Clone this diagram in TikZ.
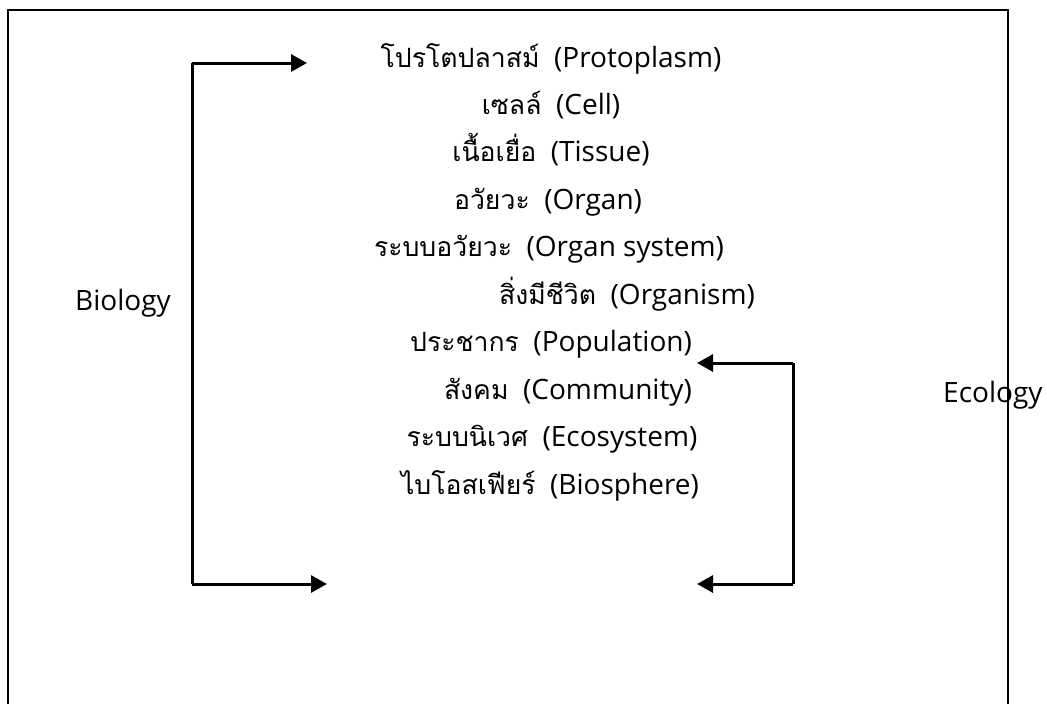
\documentclass[tikz,border=0pt]{standalone}
\usepackage{fontspec}
\setmainfont{Open Sans}
\newfontfamily\thaifont[Script=Thai,Scale=0.95]{Loma}
\newcommand{\thtxt}[1]{{\thaifont #1}}
\usetikzlibrary{arrows.meta}
\begin{document}
\begin{tikzpicture}[x=1pt,y=-1pt,
  lvl/.style={font=\fontsize{28}{32}\selectfont, inner sep=0pt, anchor=base},
  side/.style={font=\fontsize{28}{32}\selectfont, inner sep=0pt, anchor=base},
  brk/.style={line width=3pt},
  arr/.style={line width=3pt, -{Triangle[length=16pt,width=17pt]}}]
\useasboundingbox (0,0) rectangle (1047,704);
\draw[line width=2.2pt] (8,720) -- (8,10) -- (1008,10) -- (1008,720);
\node[lvl] (n1) at (551,67) {\thtxt{โปรโตปลาสม์}\ \ (Protoplasm)};
\node[lvl] (n2) at (551,114.4) {\thtxt{เซลล์}\ \ (Cell)};
\node[lvl] (n3) at (551,161.9) {\thtxt{เนื้อเยื่อ}\ \ (Tissue)};
\node[lvl] (n4) at (548,209.3) {\thtxt{อวัยวะ}\ \ (Organ)};
\node[lvl] (n5) at (549,256.8) {\thtxt{ระบบอวัยวะ}\ \ (Organ system)};
\node[lvl, anchor=base east] (n6) at (755,304.2) {\thtxt{สิ่งมีชีวิต}\ \ (Organism)};
\node[lvl] (n7) at (551,351.7) {\thtxt{ประชากร}\ \ (Population)};
\node[lvl, anchor=base east] (n8) at (692,399.1) {\thtxt{สังคม}\ \ (Community)};
\node[lvl] (n9) at (552,446.6) {\thtxt{ระบบนิเวศ}\ \ (Ecosystem)};
\node[lvl] (n10) at (550,494) {\thtxt{ไบโอสเฟียร์}\ \ (Biosphere)};
\node[side, anchor=base west] (bio) at (75,310) {Biology};
\node[side, anchor=base west] (eco) at (943,402) {Ecology};
\coordinate (lt) at (192,63);
\coordinate (lb) at (192,584);
\coordinate (lta) at (307,63);
\coordinate (lba) at (327,584);
\coordinate (rt) at (793,363);
\coordinate (rb) at (793,584);
\coordinate (rta) at (697,363);
\coordinate (rba) at (697,584);
\draw[brk] (lt) -- (lb);
\draw[arr] (lt) -- (lta);
\draw[arr] (lb) -- (lba);
\draw[brk] (rt) -- (rb);
\draw[arr] (rt) -- (rta);
\draw[arr] (rb) -- (rba);
\end{tikzpicture}
\end{document}
